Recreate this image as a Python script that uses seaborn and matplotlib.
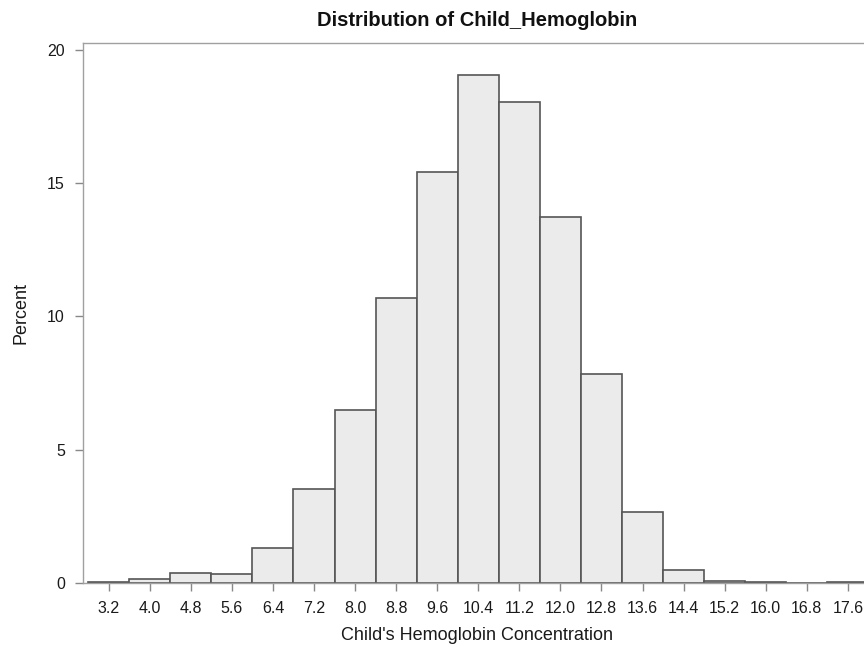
import matplotlib
matplotlib.use("Agg")
import matplotlib.pyplot as plt
import seaborn as sns
import pandas as pd

# Bin midpoints and percent of children in each bin
bin_mids = [3.2, 4.0, 4.8, 5.6, 6.4, 7.2, 8.0, 8.8, 9.6, 10.4,
            11.2, 12.0, 12.8, 13.6, 14.4, 15.2, 16.0, 16.8, 17.6]
percent = [0.04, 0.14, 0.36, 0.32, 1.31, 3.53, 6.49, 10.7, 15.43, 19.06,
           18.05, 13.73, 7.84, 2.66, 0.47, 0.09, 0.04, 0.0, 0.04]
tick_labels = ["3.2", "4.0", "4.8", "5.6", "6.4", "7.2", "8.0", "8.8", "9.6", "10.4",
               "11.2", "12.0", "12.8", "13.6", "14.4", "15.2", "16.0", "16.8", "17.6"]

df = pd.DataFrame({"hb": bin_mids, "pct": percent})

sns.set_style("white")
plt.rcParams["font.family"] = ["Liberation Sans", "DejaVu Sans"]

fig = plt.figure(figsize=(8.64, 6.46), dpi=100)
ax = fig.add_axes([0.0961, 0.0975, 0.912, 0.8359])

sns.histplot(data=df, x="hb", weights="pct", binwidth=0.8, binrange=(2.8, 18.0),
             color="#EBEBEB", edgecolor="#555555", linewidth=1.2, alpha=1, ax=ax)

ax.set_xlim(2.70, 18.05)
ax.set_ylim(0, 20.26)
ax.set_xticks(bin_mids)
ax.set_xticklabels(tick_labels)
ax.set_yticks([0, 5, 10, 15, 20])
ax.tick_params(axis="both", direction="out", length=6, width=1, color="#888888",
               labelsize=11.5, labelcolor="#1a1a1a", pad=7,
               bottom=True, left=True)

for side in ["left", "top", "bottom", "right"]:
    ax.spines[side].set_color("#A0A0A0")
    ax.spines[side].set_linewidth(1)

ax.set_xlabel("Child's Hemoglobin Concentration", fontsize=13, color="#1a1a1a", labelpad=8)
ax.set_ylabel("Percent", fontsize=13, color="#1a1a1a", labelpad=13)
ax.set_title("Distribution of Child_Hemoglobin", fontsize=14.5, fontweight="bold",
             color="#111111", pad=12)

fig.savefig("out.png", dpi=100)
